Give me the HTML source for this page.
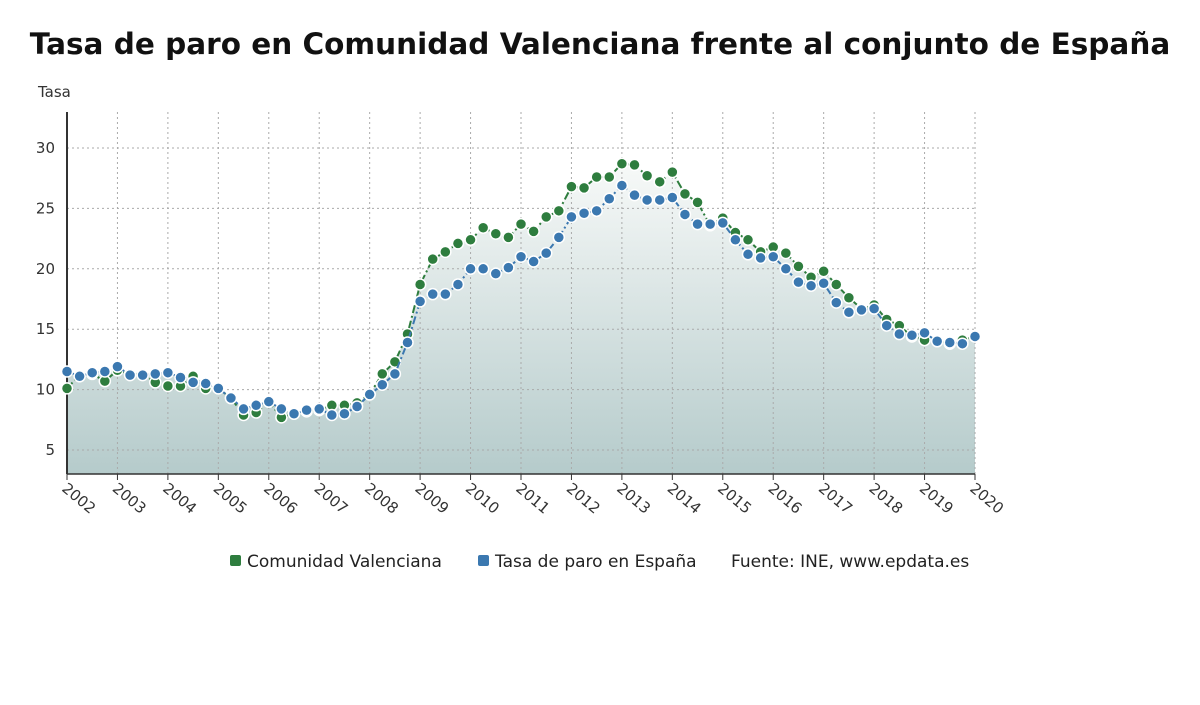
<!DOCTYPE html>
<html><head><meta charset="utf-8"><style>
body{margin:0;background:#fff;font-family:"DejaVu Sans","Liberation Sans",sans-serif;}
#wrap{position:relative;width:1200px;height:705px;overflow:hidden;}
h1{position:absolute;left:0;width:1200px;top:27px;margin:0;text-align:center;font-size:29.5px;font-weight:bold;color:#111;font-family:"DejaVu Sans","Liberation Sans",sans-serif;letter-spacing:0}
svg text{font-family:"DejaVu Sans","Liberation Sans",sans-serif;}
</style></head><body>
<div id="wrap">
<h1>Tasa de paro en Comunidad Valenciana frente al conjunto de España</h1>
<svg id="c" width="1200" height="705" style="position:absolute;left:0;top:0">
<defs><linearGradient id="g" x1="0" y1="0" x2="0" y2="1"><stop offset="0" stop-color="#f7f9f8"/><stop offset="1" stop-color="#b5cbcb"/></linearGradient></defs>
</svg>
</div>
<script>
const years=[2002,2003,2004,2005,2006,2007,2008,2009,2010,2011,2012,2013,2014,2015,2016,2017,2018,2019,2020];
const yTicks=[5,10,15,20,25,30];
const cv=[10.1,11.2,11.3,10.7,11.6,11.3,11.3,10.6,10.3,10.3,11.1,10.1,10.1,9.3,7.9,8.1,9.0,7.7,8.0,8.2,8.3,8.7,8.7,8.9,9.6,11.3,12.3,14.6,18.7,20.8,21.4,22.1,22.4,23.4,22.9,22.6,23.7,23.1,24.3,24.8,26.8,26.7,27.6,27.6,28.7,28.6,27.7,27.2,28.0,26.2,25.5,23.6,24.2,23.0,22.4,21.4,21.8,21.3,20.2,19.3,19.8,18.7,17.6,16.7,17.0,15.8,15.3,14.4,14.1,14.1,13.8,14.1,14.4];
const es=[11.5,11.1,11.4,11.5,11.9,11.2,11.2,11.3,11.4,11.0,10.6,10.5,10.1,9.3,8.4,8.7,9.0,8.4,8.0,8.3,8.4,7.9,8.0,8.6,9.6,10.4,11.3,13.9,17.3,17.9,17.9,18.7,20.0,20.0,19.6,20.1,21.0,20.6,21.3,22.6,24.3,24.6,24.8,25.8,26.9,26.1,25.7,25.7,25.9,24.5,23.7,23.7,23.8,22.4,21.2,20.9,21.0,20.0,18.9,18.6,18.8,17.2,16.4,16.6,16.7,15.3,14.6,14.5,14.7,14.0,13.9,13.8,14.4];
const NS='http://www.w3.org/2000/svg';
const svg=document.getElementById('c');
const X0=67,X1=975,YT=112,YB=474;
const xq=i=>X0+(X1-X0)*i/(cv.length-1);
const xy=yr=>X0+(X1-X0)*(yr-2002)/18;
const yv=v=>389.6-(v-10)*12.08;
function mk(t,a){const e=document.createElementNS(NS,t);for(const k in a)e.setAttribute(k,a[k]);svg.appendChild(e);return e;}
let d='M'+X0+','+YB;
cv.forEach((v,i)=>{d+=' L'+xq(i)+','+yv(Math.max(v,es[i]));});
d+=' L'+X1+','+YB+' Z';
let ar=mk('path',{d:d,fill:'url(#g)'});


yTicks.forEach(t=>{
 let l=mk('line',{x1:X0,x2:X1,y1:yv(t),y2:yv(t),stroke:'#aaa','stroke-dasharray':'2,3','stroke-width':1});
 
 
 let tx=mk('text',{x:55,y:yv(t)+5,'text-anchor':'end','font-size':15,fill:'#333'});
 tx.textContent=t;
 
 
});
years.forEach(yr=>{
 const x=xy(yr);
 let l=mk('line',{x1:x,x2:x,y1:YT,y2:YB,stroke:'#aaa','stroke-dasharray':'2,3','stroke-width':1});
 
 
 let tk=mk('line',{x1:x,x2:x,y1:YB,y2:YB+6,stroke:'#333','stroke-width':1});
 
 
 let tx=mk('text',{x:x-6,y:YB+16,'font-size':15,fill:'#333',transform:'rotate(40 '+(x-6)+' '+(YB+16)+')'});
 tx.textContent=yr;
 
 
});
let ax=mk('line',{x1:X0,x2:X0,y1:YT,y2:YB,stroke:'#333','stroke-width':2});


let bx=mk('line',{x1:X0,x2:X1,y1:YB,y2:YB,stroke:'#333','stroke-width':1.5});


let yt=mk('text',{x:38,y:97,'font-size':15,fill:'#333'});
yt.textContent='Tasa';


function series(arr,col,name){
 let p=mk('polyline',{points:arr.map((v,i)=>xq(i)+','+yv(v)).join(' '),fill:'none',stroke:col,'stroke-width':2,'stroke-dasharray':'8,3,2,3'});
 
 
 arr.forEach((v,i)=>{
  let c=mk('circle',{cx:xq(i),cy:yv(v),r:5.5,fill:col,stroke:'#fff','stroke-width':1.5});
  
  
 });
}
series(cv,'#2e7d3e','cv');
series(es,'#3b78b0','es');
function leg(x,col,label,name){
 if(col){let r=mk('rect',{x:x,y:555,width:11,height:11,rx:2,fill:col});
 
 }
 let t=mk('text',{x:col?x+17:x,y:567,'font-size':17,fill:'#222'});
 t.textContent=label;
 
 
}
leg(230,'#2e7d3e','Comunidad Valenciana','legend-entry-cv');
leg(478,'#3b78b0','Tasa de paro en España','legend-entry-es');
leg(731,null,'Fuente: INE, www.epdata.es','legend-source');
</script>
</body></html>
